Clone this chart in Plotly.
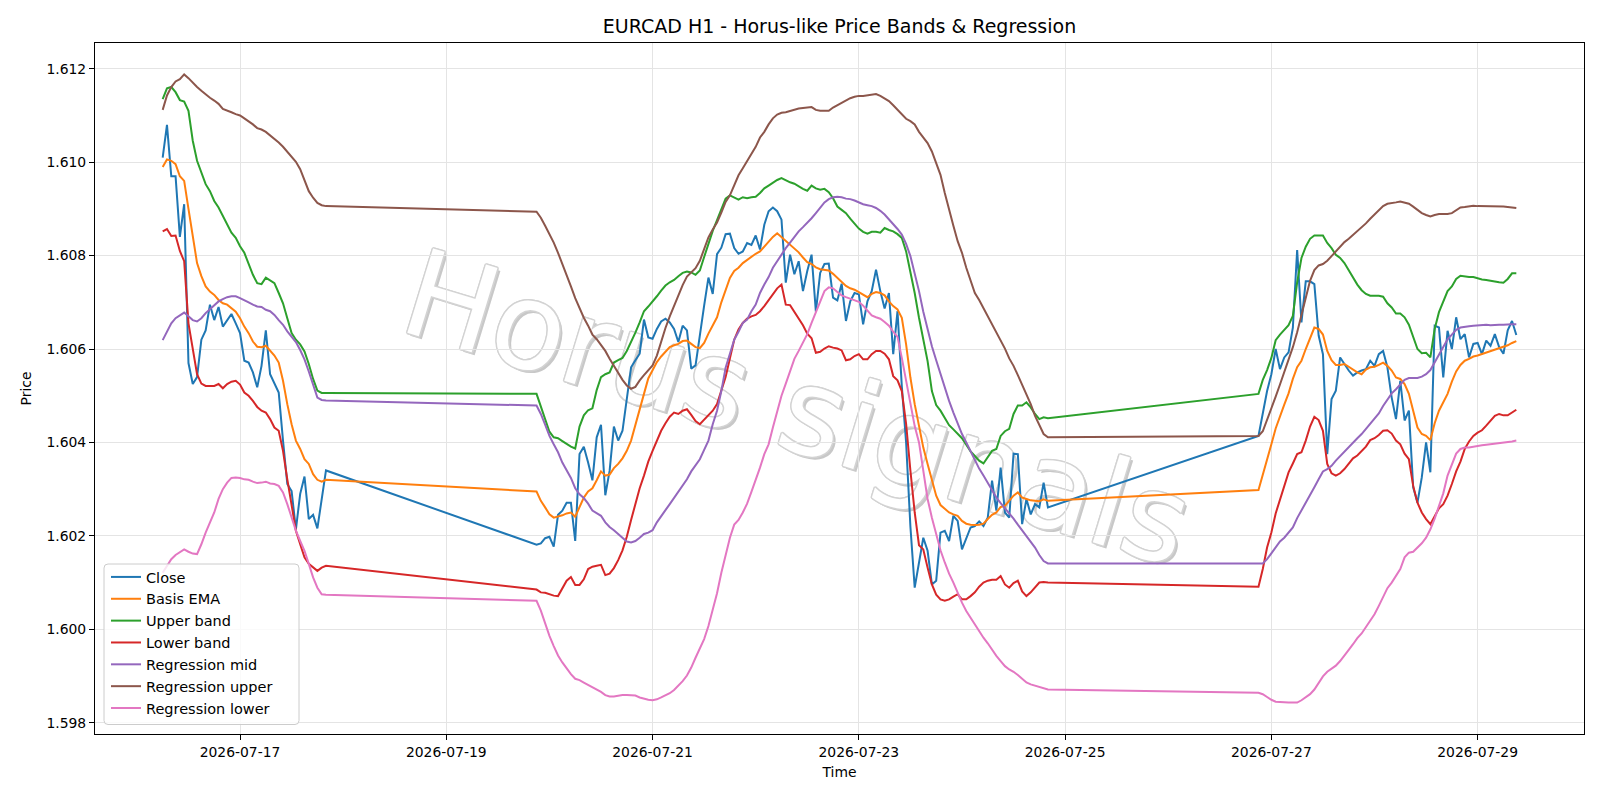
import pandas as pd
import plotly.graph_objects as go

# ---------------- data ----------------
segment_starts = ["2026-07-16 06:00", "2026-07-19 21:00", "2026-07-26 21:00"]
segment_lengths = [39, 120, 61]

close_s1 = [1.6101, 1.6108, 1.6097, 1.6097, 1.6084, 1.6091, 1.6057, 1.60525, 1.6054, 1.6062,
            1.6064, 1.60695, 1.60662, 1.6069, 1.60648, 1.60662, 1.60675, 1.60655, 1.60634, 1.60575,
            1.60571, 1.6055, 1.60518, 1.60564, 1.6064, 1.60546, 1.60525, 1.60507, 1.60404, 1.60311,
            1.60296, 1.60214, 1.6029, 1.60327, 1.60236, 1.60245, 1.60216, 1.60279, 1.6034]
close_s2 = [1.60181, 1.60184, 1.60195, 1.60198, 1.60177, 1.60245, 1.60254, 1.60271, 1.60271, 1.60189,
            1.60375, 1.60391, 1.60357, 1.60319, 1.60411, 1.60438, 1.60287, 1.60339, 1.60434, 1.60404,
            1.60425, 1.60488, 1.60561, 1.60576, 1.6059, 1.60663, 1.60625, 1.60622, 1.60643, 1.60659,
            1.60665, 1.60657, 1.60643, 1.60615, 1.6065, 1.6064, 1.60558, 1.60565, 1.60633, 1.60693,
            1.60753, 1.60718, 1.60803, 1.60817, 1.60846, 1.60847, 1.60816, 1.60804, 1.60809, 1.60827,
            1.60823, 1.60843, 1.60813, 1.60866, 1.60895, 1.60903, 1.60895, 1.60877, 1.60742, 1.60802,
            1.6076, 1.60788, 1.60724, 1.60767, 1.60802, 1.6068, 1.60763, 1.60782, 1.60783, 1.6071,
            1.60704, 1.6074, 1.6066, 1.60702, 1.6072, 1.60717, 1.60653, 1.60702, 1.60724, 1.6077,
            1.60724, 1.60687, 1.6072, 1.60589, 1.60681, 1.6052, 1.604, 1.6022, 1.60089, 1.60146,
            1.60196, 1.60168, 1.60096, 1.60104, 1.60207, 1.60211, 1.60189, 1.60243, 1.60232, 1.60171,
            1.60196, 1.60218, 1.60221, 1.60231, 1.60221, 1.60239, 1.60318, 1.60254, 1.60346, 1.6025,
            1.60239, 1.60376, 1.60375, 1.60225, 1.60279, 1.60246, 1.60268, 1.60261, 1.60314, 1.60261]
close_s3 = [1.60414, 1.6046, 1.6051, 1.60546, 1.606, 1.60557, 1.60582, 1.60593, 1.60646, 1.60812,
            1.60657, 1.60745, 1.60745, 1.60739, 1.60629, 1.60589, 1.60375, 1.60493, 1.60511, 1.60582,
            1.60568, 1.60554, 1.60543, 1.6055, 1.60554, 1.60557, 1.60575, 1.60564, 1.60589, 1.60596,
            1.60561, 1.60496, 1.6045, 1.60532, 1.60447, 1.60468, 1.60304, 1.60271, 1.60325, 1.604,
            1.60336, 1.6065, 1.60646, 1.60539, 1.60639, 1.606, 1.60668, 1.60621, 1.60632, 1.60582,
            1.60611, 1.60613, 1.60589, 1.60618, 1.60607, 1.60632, 1.60604, 1.6059, 1.6064, 1.6066,
            1.6063]

ema_s1 = [1.6099, 1.61006, 1.61003, 1.60996, 1.6097, 1.6096, 1.609, 1.60842, 1.60784, 1.60756,
          1.60734, 1.60723, 1.60716, 1.60705, 1.60698, 1.60695, 1.60687, 1.6068, 1.60666, 1.60648,
          1.60634, 1.60616, 1.60605, 1.60604, 1.60607, 1.60596, 1.60586, 1.60571, 1.60532, 1.60482,
          1.60439, 1.60404, 1.60386, 1.60364, 1.60354, 1.60332, 1.6032, 1.60316, 1.6032]
ema_s2 = [1.60295, 1.60275, 1.60261, 1.60246, 1.60239, 1.60241, 1.60244, 1.60248, 1.6025, 1.60241,
          1.60262, 1.60282, 1.60295, 1.60302, 1.60319, 1.60338, 1.60329, 1.60331, 1.60345, 1.60354,
          1.60366, 1.60382, 1.60404, 1.60439, 1.60471, 1.60504, 1.60537, 1.60554, 1.60572, 1.60584,
          1.60593, 1.60604, 1.60608, 1.60611, 1.60617, 1.60618, 1.60611, 1.60604, 1.60602, 1.60613,
          1.60633, 1.60652, 1.60668, 1.607, 1.60725, 1.60752, 1.60767, 1.60774, 1.60784, 1.60791,
          1.60798, 1.60804, 1.60809, 1.6082, 1.60831, 1.6084, 1.60848, 1.6084, 1.60831, 1.60823,
          1.60816, 1.60807, 1.60796, 1.60786, 1.60782, 1.60775, 1.60771, 1.6077, 1.60768, 1.60761,
          1.60752, 1.60745, 1.60735, 1.6073, 1.60727, 1.60722, 1.60717, 1.60711, 1.60718, 1.60722,
          1.6072, 1.60715, 1.60702, 1.60692, 1.60685, 1.60667, 1.6061, 1.60539, 1.60482, 1.60432,
          1.60389, 1.60354, 1.60321, 1.60286, 1.60266, 1.60257, 1.6025, 1.60246, 1.60243, 1.60232,
          1.60226, 1.60224, 1.60223, 1.60224, 1.60226, 1.60236, 1.60245, 1.6025, 1.60262, 1.60264,
          1.60274, 1.60286, 1.60293, 1.60282, 1.60279, 1.60276, 1.60275, 1.60274, 1.60278, 1.60275]
ema_s3 = [1.60298, 1.60329, 1.60364, 1.60396, 1.6043, 1.60457, 1.60481, 1.60505, 1.60536, 1.60561,
          1.60575, 1.606, 1.60624, 1.60646, 1.60643, 1.60631, 1.60596, 1.60576, 1.60566, 1.60566,
          1.60568, 1.60562, 1.60557, 1.6055, 1.60546, 1.60556, 1.60561, 1.60562, 1.60566, 1.60571,
          1.60564, 1.60554, 1.60539, 1.60536, 1.60525, 1.60504, 1.60468, 1.60432, 1.60418, 1.60414,
          1.60405, 1.60441, 1.60468, 1.60485, 1.60504, 1.6053, 1.60552, 1.60566, 1.60575, 1.60579,
          1.60584, 1.60586, 1.60589, 1.60592, 1.60595, 1.60598, 1.60601, 1.60604, 1.60608, 1.60613,
          1.60617]

upper_s1 = [1.61135, 1.61158, 1.61161, 1.6115, 1.61133, 1.6113, 1.6111, 1.61046, 1.61003, 1.60978,
            1.60953, 1.60938, 1.60917, 1.60903, 1.60885, 1.60867, 1.60849, 1.60838, 1.6082, 1.60806,
            1.60781, 1.60759, 1.60741, 1.60739, 1.60753, 1.60747, 1.60741, 1.6072, 1.60698, 1.60666,
            1.60634, 1.6062, 1.6061, 1.60595, 1.60568, 1.60536, 1.60511, 1.60506, 1.60506]
upper_s2 = [1.60504, 1.60476, 1.60448, 1.60423, 1.60411, 1.60409, 1.60403, 1.60397, 1.60391, 1.60387,
            1.60434, 1.60458, 1.60469, 1.60473, 1.60512, 1.6054, 1.60546, 1.6055, 1.60571, 1.60576,
            1.60581, 1.60596, 1.60615, 1.60635, 1.60657, 1.60681, 1.60691, 1.60701, 1.60713, 1.60725,
            1.60736, 1.60743, 1.60748, 1.60756, 1.60763, 1.60766, 1.60764, 1.60759, 1.60768, 1.60797,
            1.60826, 1.60853, 1.60876, 1.60901, 1.60922, 1.60929, 1.60925, 1.6092, 1.60925, 1.60923,
            1.60925, 1.60926, 1.60934, 1.60944, 1.6095, 1.60956, 1.60962, 1.60966, 1.60961, 1.60957,
            1.60954, 1.60948, 1.60943, 1.60939, 1.6095, 1.60944, 1.60941, 1.60943, 1.60936, 1.60923,
            1.60905, 1.60898, 1.60891, 1.60879, 1.60868, 1.60858, 1.60851, 1.60847, 1.60851, 1.60851,
            1.60849, 1.60859, 1.60855, 1.60852, 1.60846, 1.60838, 1.60809, 1.60767, 1.6072, 1.60667,
            1.60621, 1.60574, 1.6051, 1.6048, 1.60468, 1.60452, 1.60437, 1.60428, 1.60418, 1.60409,
            1.60395, 1.60381, 1.60371, 1.60361, 1.60355, 1.60368, 1.60382, 1.60386, 1.60414, 1.60424,
            1.60429, 1.60461, 1.60479, 1.60479, 1.60486, 1.60475, 1.60461, 1.6045, 1.60454, 1.60452]
upper_s3 = [1.60504, 1.60534, 1.60555, 1.60581, 1.60619, 1.60631, 1.60641, 1.60651, 1.60671, 1.60743,
            1.60795, 1.60819, 1.60836, 1.60843, 1.60843, 1.60843, 1.60827, 1.60816, 1.60802, 1.60795,
            1.60784, 1.60768, 1.60752, 1.60738, 1.60726, 1.60718, 1.60714, 1.60714, 1.60714, 1.60712,
            1.60698, 1.60689, 1.60676, 1.60676, 1.60668, 1.60652, 1.60626, 1.606, 1.60591, 1.60592,
            1.60582, 1.60643, 1.60679, 1.60702, 1.60724, 1.60734, 1.6075, 1.60757, 1.60755, 1.60754,
            1.60754, 1.60751, 1.60749, 1.60748, 1.60746, 1.60745, 1.60743, 1.60742, 1.6075, 1.60762,
            1.60762]

lower_s1 = [1.60852, 1.60857, 1.60842, 1.60843, 1.6081, 1.60788, 1.60655, 1.60596, 1.60546, 1.60526,
            1.60521, 1.60521, 1.60521, 1.60525, 1.60516, 1.60525, 1.6053, 1.60532, 1.60524, 1.60507,
            1.605, 1.60489, 1.60476, 1.60468, 1.60464, 1.6045, 1.60432, 1.60425, 1.60382, 1.60321,
            1.60261, 1.60211, 1.60182, 1.60154, 1.6014, 1.60132, 1.60125, 1.60132, 1.60136]
lower_s2 = [1.60085, 1.60079, 1.60078, 1.60075, 1.60072, 1.60071, 1.60088, 1.60104, 1.60112, 1.60095,
            1.60095, 1.60107, 1.60129, 1.60134, 1.60136, 1.60138, 1.60116, 1.60119, 1.60131, 1.60148,
            1.60169, 1.60198, 1.60234, 1.60271, 1.60302, 1.60329, 1.60359, 1.60382, 1.60402, 1.60425,
            1.60441, 1.60455, 1.60464, 1.60461, 1.60468, 1.60471, 1.60459, 1.60446, 1.60439, 1.60448,
            1.60457, 1.60468, 1.60482, 1.6051, 1.6054, 1.6058, 1.6062, 1.60642, 1.60656, 1.60665,
            1.6067, 1.60673, 1.60681, 1.60692, 1.60704, 1.60717, 1.6073, 1.60738, 1.60695, 1.60694,
            1.6068, 1.60667, 1.60651, 1.60633, 1.60623, 1.60592, 1.60594, 1.60601, 1.60606, 1.60603,
            1.60601, 1.60597, 1.60576, 1.60578, 1.60585, 1.60589, 1.60578, 1.60578, 1.60589, 1.60596,
            1.60596, 1.6059, 1.60578, 1.60542, 1.60533, 1.6051, 1.6044, 1.6034, 1.6025, 1.6018,
            1.60171, 1.60132, 1.60096, 1.60074, 1.60064, 1.60061, 1.60064, 1.6007, 1.60075, 1.60064,
            1.60064, 1.60071, 1.60079, 1.60091, 1.601, 1.60104, 1.60106, 1.60106, 1.60114, 1.60096,
            1.60089, 1.60099, 1.60104, 1.60081, 1.60071, 1.60079, 1.60089, 1.601, 1.60101, 1.601]
lower_s3 = [1.60091, 1.60129, 1.60175, 1.60207, 1.60248, 1.60279, 1.60305, 1.60336, 1.60355, 1.60375,
            1.60379, 1.60404, 1.60434, 1.60455, 1.60448, 1.60425, 1.60354, 1.60334, 1.60329, 1.60334,
            1.60343, 1.60355, 1.60366, 1.60372, 1.60381, 1.60391, 1.60405, 1.60409, 1.60416, 1.60425,
            1.60426, 1.60419, 1.60404, 1.60396, 1.60376, 1.60364, 1.60307, 1.60271, 1.6025, 1.60236,
            1.60225, 1.60243, 1.60259, 1.60268, 1.60286, 1.60311, 1.60338, 1.60359, 1.60386, 1.60402,
            1.60414, 1.60421, 1.60426, 1.60436, 1.60446, 1.60457, 1.60461, 1.60458, 1.60458, 1.60465,
            1.6047]

reg_mid_s1 = [1.60619, 1.60637, 1.60655, 1.60666, 1.60673, 1.60678, 1.6067, 1.60662, 1.60659, 1.60666,
              1.60677, 1.60685, 1.60695, 1.60702, 1.60707, 1.60711, 1.60713, 1.60713, 1.60709, 1.60705,
              1.607, 1.60695, 1.60691, 1.6069, 1.60684, 1.60681, 1.60673, 1.60662, 1.60652, 1.60638,
              1.60626, 1.60615, 1.60598, 1.60578, 1.60552, 1.60522, 1.60496, 1.60491, 1.6049]
reg_mid_s2 = [1.60479, 1.60461, 1.60438, 1.60414, 1.60396, 1.60379, 1.60357, 1.60341, 1.60324, 1.60302,
              1.60289, 1.60281, 1.60269, 1.60254, 1.60248, 1.60243, 1.60229, 1.60219, 1.60212, 1.60204,
              1.60195, 1.60188, 1.60186, 1.60189, 1.60196, 1.60204, 1.60207, 1.60212, 1.60229, 1.60243,
              1.60255, 1.60268, 1.60281, 1.60293, 1.60307, 1.60321, 1.60338, 1.60352, 1.60364, 1.60384,
              1.60404, 1.60439, 1.60468, 1.6051, 1.6056, 1.6059, 1.6062, 1.60637, 1.60656, 1.60663,
              1.60681, 1.60695, 1.6072, 1.60738, 1.60754, 1.60774, 1.60789, 1.60801, 1.60816, 1.60828,
              1.60841, 1.60852, 1.60861, 1.6087, 1.6088, 1.60891, 1.60903, 1.60914, 1.60921, 1.60925,
              1.60926, 1.60925, 1.60922, 1.60921, 1.60918, 1.60914, 1.6091, 1.60908, 1.60906, 1.60902,
              1.60896, 1.60888, 1.60878, 1.60868, 1.60857, 1.60845, 1.60825, 1.60799, 1.60763, 1.60724,
              1.6068, 1.60642, 1.60606, 1.60576, 1.60546, 1.60519, 1.60489, 1.60464, 1.60441, 1.60418,
              1.604, 1.60381, 1.60362, 1.60344, 1.60329, 1.60313, 1.60298, 1.60282, 1.6027, 1.60259,
              1.60249, 1.60237, 1.60224, 1.60212, 1.60199, 1.60187, 1.60175, 1.60159, 1.60146, 1.60141]
reg_mid_s3 = [1.60141, 1.60141, 1.6015, 1.60162, 1.60175, 1.60188, 1.60196, 1.60206, 1.60218, 1.60238,
              1.60254, 1.60269, 1.60286, 1.60304, 1.60321, 1.60338, 1.60343, 1.6035, 1.60361, 1.60371,
              1.6038, 1.60389, 1.604, 1.60409, 1.60418, 1.60429, 1.60438, 1.6045, 1.60462, 1.60478,
              1.60493, 1.60505, 1.60514, 1.60525, 1.60534, 1.60538, 1.60538, 1.60538, 1.60541, 1.60546,
              1.60555, 1.60571, 1.60589, 1.60606, 1.60621, 1.60631, 1.60641, 1.60646, 1.60648, 1.60649,
              1.6065, 1.60651, 1.60651, 1.60652, 1.60651, 1.60652, 1.60652, 1.60652, 1.60653, 1.60653,
              1.60653]

reg_up_s1 = [1.61112, 1.61143, 1.61161, 1.61173, 1.61178, 1.61188, 1.6118, 1.6117, 1.61161, 1.61153,
             1.61145, 1.61138, 1.61132, 1.61125, 1.61114, 1.61111, 1.61107, 1.61103, 1.611, 1.61094,
             1.61088, 1.61081, 1.61073, 1.6107, 1.61065, 1.61058, 1.61051, 1.61042, 1.61033, 1.61022,
             1.61012, 1.61001, 1.60985, 1.60963, 1.60938, 1.60924, 1.60913, 1.60908, 1.60906]
reg_up_s2 = [1.60894, 1.60881, 1.60864, 1.60846, 1.60828, 1.60806, 1.60783, 1.60759, 1.60734, 1.60709,
             1.60686, 1.60667, 1.6065, 1.60631, 1.60621, 1.60609, 1.60596, 1.60579, 1.60563, 1.60549,
             1.60534, 1.60522, 1.60515, 1.60519, 1.60533, 1.60544, 1.60554, 1.60565, 1.60586, 1.60618,
             1.60645, 1.6067, 1.60693, 1.60718, 1.60737, 1.60755, 1.60764, 1.60773, 1.60789, 1.60815,
             1.60839, 1.60856, 1.60871, 1.60892, 1.60915, 1.60929, 1.60952, 1.60972, 1.60987, 1.61003,
             1.61016, 1.61033, 1.61053, 1.61065, 1.61081, 1.61094, 1.61102, 1.61106, 1.61107, 1.6111,
             1.61112, 1.61115, 1.61116, 1.61117, 1.61118, 1.61112, 1.6111, 1.6111, 1.6111, 1.61117,
             1.61122, 1.61128, 1.61133, 1.61137, 1.6114, 1.61142, 1.61142, 1.61143, 1.61144, 1.61146,
             1.61142, 1.61137, 1.61131, 1.61122, 1.61112, 1.61101, 1.61093, 1.61088, 1.61081, 1.61065,
             1.61053, 1.61041, 1.61023, 1.61, 1.60973, 1.60934, 1.60896, 1.60864, 1.60831, 1.60806,
             1.60774, 1.60745, 1.6072, 1.60705, 1.60688, 1.6067, 1.60654, 1.60635, 1.60618, 1.60601,
             1.6058, 1.60564, 1.60544, 1.60524, 1.60504, 1.60482, 1.60457, 1.60436, 1.60418, 1.60411]
reg_up_s3 = [1.60414, 1.60424, 1.60448, 1.60471, 1.60498, 1.60524, 1.6055, 1.60574, 1.60604, 1.60636,
             1.60671, 1.60709, 1.60746, 1.60769, 1.60779, 1.60782, 1.60789, 1.60799, 1.60809, 1.6082,
             1.60829, 1.60836, 1.60844, 1.60852, 1.60861, 1.60869, 1.60879, 1.60888, 1.60898, 1.60906,
             1.60911, 1.60912, 1.60914, 1.60916, 1.60914, 1.60911, 1.60905, 1.60898, 1.60891, 1.60887,
             1.60884, 1.60887, 1.60889, 1.60889, 1.60889, 1.60891, 1.60898, 1.60903, 1.60904, 1.60905,
             1.60907, 1.60906, 1.60906, 1.60906, 1.60906, 1.60906, 1.60905, 1.60905, 1.60904, 1.60903,
             1.60902]

reg_lo_s1 = [1.60121, 1.60136, 1.6015, 1.60159, 1.60166, 1.60171, 1.60166, 1.60162, 1.60161, 1.60182,
             1.60207, 1.60229, 1.6025, 1.60279, 1.603, 1.60314, 1.60324, 1.60325, 1.60324, 1.60321,
             1.6032, 1.60316, 1.60313, 1.60314, 1.60316, 1.60312, 1.60311, 1.60307, 1.60293, 1.60268,
             1.60239, 1.60211, 1.60189, 1.60168, 1.6014, 1.60111, 1.60089, 1.60075, 1.60074]
reg_lo_s2 = [1.60061, 1.6004, 1.60011, 1.59986, 1.59964, 1.59944, 1.59929, 1.59916, 1.59904, 1.59894,
             1.59891, 1.59886, 1.59881, 1.59876, 1.59871, 1.59866, 1.59859, 1.59856, 1.59856, 1.59858,
             1.59859, 1.59859, 1.59859, 1.59858, 1.59854, 1.59851, 1.59849, 1.59848, 1.5985, 1.59854,
             1.59859, 1.59863, 1.5987, 1.59879, 1.59889, 1.59901, 1.59918, 1.59939, 1.59959, 1.59979,
             1.60007, 1.60041, 1.60077, 1.60121, 1.60161, 1.60196, 1.60224, 1.60234, 1.6025, 1.60269,
             1.60294, 1.60319, 1.60346, 1.60375, 1.60396, 1.60432, 1.60468, 1.605, 1.60526, 1.60552,
             1.60579, 1.60596, 1.60613, 1.60632, 1.60656, 1.6068, 1.60702, 1.60724, 1.60732, 1.6073,
             1.60722, 1.60715, 1.60711, 1.60708, 1.60705, 1.60701, 1.60693, 1.60683, 1.60672, 1.60668,
             1.60665, 1.60658, 1.6065, 1.60637, 1.60626, 1.60581, 1.60532, 1.60478, 1.60435, 1.604,
             1.60339, 1.60279, 1.60239, 1.60202, 1.60169, 1.60143, 1.60119, 1.601, 1.60077, 1.60057,
             1.60039, 1.60024, 1.60009, 1.59995, 1.59982, 1.5997, 1.59955, 1.59943, 1.59932, 1.59921,
             1.59914, 1.59909, 1.59902, 1.59894, 1.59886, 1.59882, 1.59879, 1.59876, 1.59874, 1.59871]
reg_lo_s3 = [1.59864, 1.59861, 1.59855, 1.59849, 1.59845, 1.59844, 1.59843, 1.59843, 1.59843, 1.59843,
             1.59848, 1.59855, 1.59861, 1.59871, 1.59886, 1.59899, 1.59909, 1.59916, 1.59922, 1.59932,
             1.59945, 1.59956, 1.59968, 1.59981, 1.59991, 1.60004, 1.60019, 1.60032, 1.6005, 1.60069,
             1.60088, 1.601, 1.60114, 1.60129, 1.60154, 1.60164, 1.60166, 1.60174, 1.60184, 1.60196,
             1.60214, 1.60237, 1.60264, 1.60291, 1.60329, 1.60354, 1.60376, 1.60386, 1.60389, 1.60389,
             1.60391, 1.60392, 1.60394, 1.60395, 1.60396, 1.60398, 1.60399, 1.60399, 1.604, 1.60402,
             1.60404]

price_ticks = [1.598, 1.600, 1.602, 1.604, 1.606, 1.608, 1.610, 1.612]
title_text = "EURCAD H1 - Horus-like Price Bands & Regression"
watermark_text = "Horus signals"

series = [
    ("Close", "#1f77b4", close_s1 + close_s2 + close_s3),
    ("Basis EMA", "#ff7f0e", ema_s1 + ema_s2 + ema_s3),
    ("Upper band", "#2ca02c", upper_s1 + upper_s2 + upper_s3),
    ("Lower band", "#d62728", lower_s1 + lower_s2 + lower_s3),
    ("Regression mid", "#9467bd", reg_mid_s1 + reg_mid_s2 + reg_mid_s3),
    ("Regression upper", "#8c564b", reg_up_s1 + reg_up_s2 + reg_up_s3),
    ("Regression lower", "#e377c2", reg_lo_s1 + reg_lo_s2 + reg_lo_s3),
]

# ---------------- build ----------------
times = []
for start, n in zip(segment_starts, segment_lengths):
    times.extend(pd.date_range(start, periods=n, freq="h"))
for name, _, vals in series:
    assert len(vals) == len(times), (name, len(vals), len(times))

fig = go.Figure()
for name, color, vals in series:
    fig.add_trace(go.Scatter(x=times, y=vals, mode="lines", name=name,
                             line=dict(color=color, width=2)))

# matplotlib-like 5% margins
t0, t1 = min(times), max(times)
span = t1 - t0
x_lo, x_hi = t0 - span * 0.05, t1 + span * 0.05
all_vals = [v for _, _, vals in series for v in vals]
vmin, vmax = min(all_vals), max(all_vals)
pad = (vmax - vmin) * 0.05
y_lo, y_hi = vmin - pad, vmax + pad

L, R, T, B = 95, 16, 43, 66
pw, ph = 1600 - L - R, 800 - T - B


def px_x(x):
    return (x - L) / pw


def px_y(y):
    return 1 - (y - T) / ph


# watermark (drawn below the traces)
cx, cy = px_x(800), px_y(400)
layers = [(3, 3, "#c8c8c8")]
for dx, dy in [(-1.5, 0), (1.5, 0), (0, -1.5), (0, 1.5), (-1.1, -1.1), (1.1, -1.1), (-1.1, 1.1), (1.1, 1.1)]:
    layers.append((dx, dy, "#d3d3d3"))
layers.append((0, 0, "#ffffff"))
shapes = []
for dx, dy, col in layers:
    ox, oy = dx / pw, -dy / ph
    shapes.append(dict(type="rect", xref="paper", yref="paper",
                       x0=cx - 0.05 + ox, x1=cx + 0.05 + ox, y0=cy - 0.05 + oy, y1=cy + 0.05 + oy,
                       line=dict(width=0), fillcolor="rgba(0,0,0,0)", layer="below",
                       label=dict(text=watermark_text, textangle=17, textposition="middle center",
                                  font=dict(family="DejaVu Sans", size=121, color=col))))

# legend frame (rounded, matplotlib-like)
bx0, bx1, by0, by1, rad = 104, 299, 564, 724.5, 4
rx, ry = rad / pw, rad / ph
X0, X1, Y0, Y1 = px_x(bx0), px_x(bx1), px_y(by1), px_y(by0)
frame_path = (f"M {X0 + rx},{Y0} L {X1 - rx},{Y0} Q {X1},{Y0} {X1},{Y0 + ry} "
              f"L {X1},{Y1 - ry} Q {X1},{Y1} {X1 - rx},{Y1} L {X0 + rx},{Y1} "
              f"Q {X0},{Y1} {X0},{Y1 - ry} L {X0},{Y0 + ry} Q {X0},{Y0} {X0 + rx},{Y0} Z")
shapes.append(dict(type="path", xref="paper", yref="paper", path=frame_path,
                   fillcolor="rgba(255,255,255,0.8)", line=dict(color="#cccccc", width=1),
                   layer="above"))

axis_common = dict(showgrid=True, gridcolor="#e4e4e4", gridwidth=1, zeroline=False,
                   showline=True, linecolor="black", linewidth=1, mirror=True,
                   ticks="outside", ticklen=5, tickcolor="black", tickwidth=1,
                   tickfont=dict(size=13.9))

fig.update_layout(
    width=1600, height=800,
    margin=dict(l=L, r=R, t=T, b=B),
    paper_bgcolor="white", plot_bgcolor="rgba(0,0,0,0)",
    font=dict(family="DejaVu Sans", size=13.9, color="black"),
    title=dict(text=title_text, x=0.5, xref="paper", xanchor="center",
               y=1 - 26 / 800, yref="container", yanchor="middle",
               font=dict(size=19, color="black")),
    xaxis=dict(type="date", range=[x_lo, x_hi], tick0="2026-07-17", dtick=2 * 86400000,
               tickformat="%Y-%m-%d",
               title=dict(text="Time", standoff=8, font=dict(size=13.9)), **axis_common),
    yaxis=dict(range=[y_lo, y_hi], tickvals=price_ticks, tickformat=".3f",
               title=dict(text="Price", standoff=11, font=dict(size=13.9)), **axis_common),
    legend=dict(x=px_x(106), y=px_y(561), xanchor="left", yanchor="top",
                bgcolor="rgba(0,0,0,0)", borderwidth=0,
                font=dict(size=14.5), itemwidth=30, tracegroupgap=0),
    shapes=shapes,
    showlegend=True,
)

fig.write_html("out.html")
